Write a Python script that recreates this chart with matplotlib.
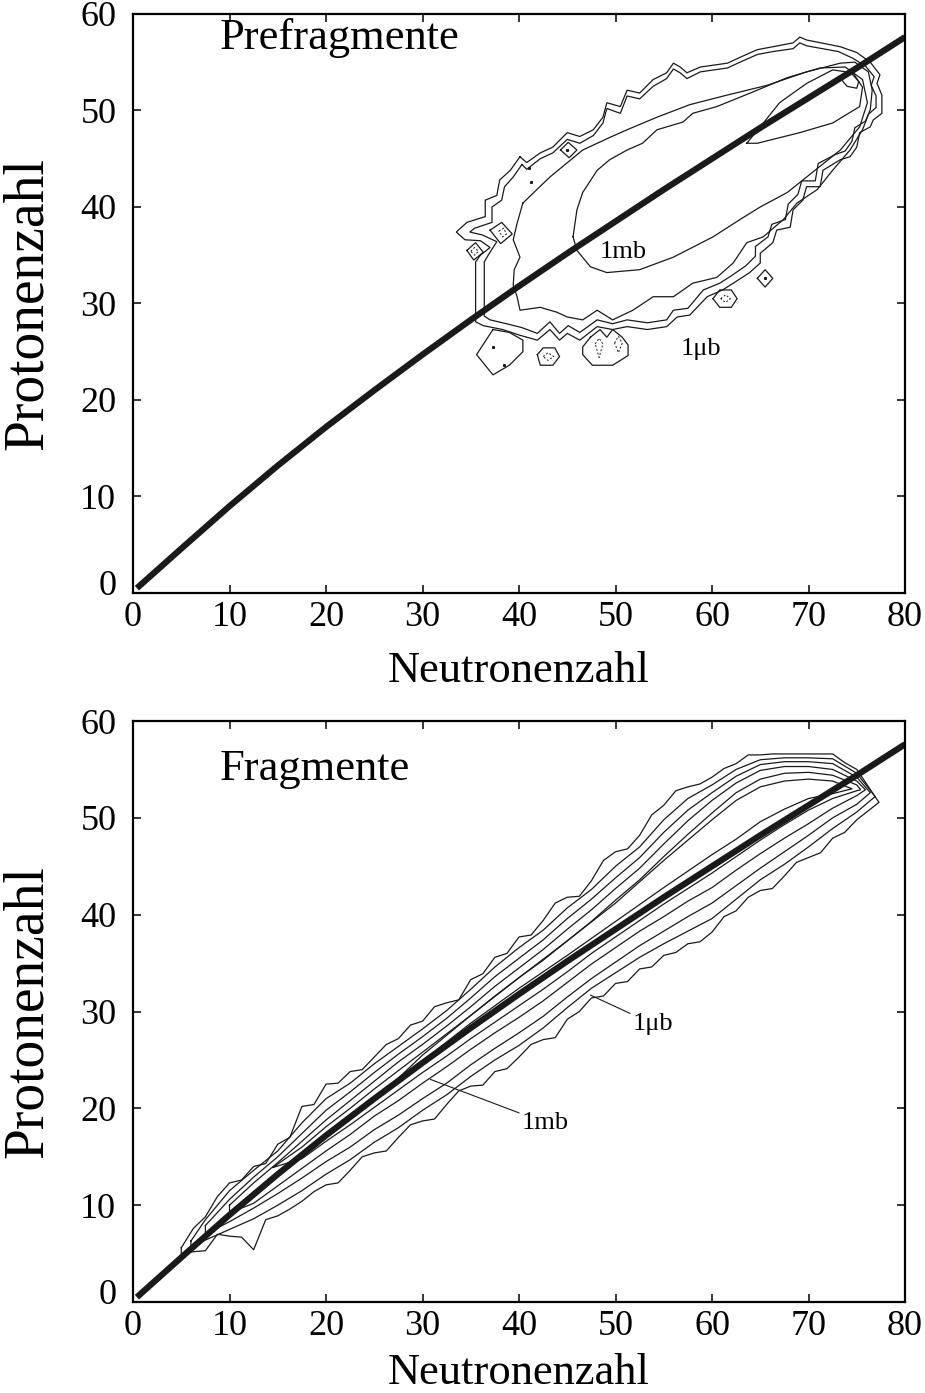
"""
N-Z Karten: Prefragmente / Fragmente
out: out.png
"""

import numpy as np
import matplotlib.pyplot as plt
from matplotlib.transforms import ScaledTranslation

plt.rcParams['font.family'] = ['Liberation Serif', 'DejaVu Serif']

# stability line (thick)
line_n = [0.4, 5, 10, 15, 20, 25, 30, 35, 40, 45, 50, 55, 60, 65, 70, 75, 80]
line_z = [0.5, 4.6, 9.0, 13.2, 17.2, 21.0, 24.7, 28.3, 31.8, 35.2, 38.5, 41.8, 45.0, 48.2, 51.3, 54.4, 57.6]

# ---- Prefragmente contours (N, Z vertices) ----
pre_outer1_n = [40.1, 39.1, 38.0, 37.7, 36.5, 36.5, 34.6, 33.5, 34.4, 36.0, 37.0, 36.0, 35.5, 35.5, 36.3, 38.3, 40.1,
                41.9, 43.2, 44.2, 45.0, 46.3, 48.1, 49.7, 51.2, 53.3, 55.3, 56.4, 57.7, 59.5, 61.1, 62.2, 63.9, 65.0,
                65.0, 66.3, 66.7, 68.1, 68.4, 69.4, 69.8, 71.2, 71.5, 73.3, 74.3, 75.0, 75.3, 76.4, 76.7, 77.6, 77.6,
                77.1, 77.4, 76.4, 75.0, 73.3, 69.8, 69.1, 68.4, 66.3, 64.7, 62.9, 61.6, 58.8, 57.4, 56.7, 56.0, 55.3,
                53.9, 52.5, 51.2, 50.5, 49.1, 48.7, 47.7, 46.3, 45.0, 43.5, 42.2, 40.8]
pre_outer1_z = [45.2, 43.8, 42.8, 41.2, 40.7, 39.0, 38.4, 37.4, 36.6, 36.5, 35.8, 35.0, 34.3, 28.1, 27.7, 27.3, 26.7,
                26.2, 27.3, 26.2, 26.9, 26.2, 27.6, 27.3, 27.6, 27.3, 27.6, 28.6, 28.8, 30.7, 31.4, 32.1, 33.2, 34.2,
                35.2, 36.3, 37.6, 37.9, 39.7, 40.7, 42.1, 42.1, 43.8, 44.9, 45.2, 46.2, 47.7, 48.3, 49.0, 49.7, 51.6,
                52.8, 53.7, 55.0, 56.0, 56.6, 57.3, 57.6, 57.0, 56.6, 56.3, 55.5, 54.9, 54.5, 53.9, 54.5, 54.9, 53.9,
                53.2, 51.8, 52.1, 50.4, 50.8, 49.3, 48.0, 47.3, 47.7, 46.2, 45.6, 44.6]

pre_outer2_n = [40.3, 39.4, 38.5, 38.2, 37.2, 37.2, 35.4, 34.9, 36.2, 37.7, 36.8, 36.4, 36.4, 37.0, 38.7, 40.3, 41.9,
                43.2, 44.2, 45.1, 46.3, 48.1, 49.7, 51.2, 53.3, 55.3, 56.0, 57.5, 59.1, 60.8, 61.9, 63.5, 64.5, 64.5,
                65.8, 66.2, 67.6, 67.9, 68.9, 69.3, 70.7, 71.0, 72.7, 73.8, 74.5, 74.8, 75.9, 76.2, 77.0, 77.0, 76.5,
                76.8, 75.9, 74.6, 73.1, 69.8, 69.1, 68.4, 66.3, 64.7, 62.9, 61.6, 58.8, 57.4, 56.7, 56.0, 55.3, 53.9,
                52.5, 51.2, 50.5, 49.1, 48.7, 47.7, 46.3, 45.0, 43.5, 42.2, 40.8]
pre_outer2_z = [44.4, 43.1, 42.1, 40.7, 40.0, 38.4, 37.8, 37.4, 37.1, 36.4, 35.0, 34.3, 28.7, 28.3, 27.9, 27.5, 26.9,
                28.1, 26.9, 27.7, 27.0, 28.3, 27.9, 28.3, 28.0, 28.3, 29.3, 29.5, 31.4, 32.1, 32.8, 33.9, 34.9, 35.9,
                36.9, 38.2, 38.7, 40.3, 41.3, 42.7, 42.7, 44.5, 45.4, 45.8, 46.8, 48.2, 48.9, 49.6, 50.3, 51.5, 52.6,
                53.5, 54.6, 55.4, 56.1, 56.7, 57.0, 56.4, 56.1, 55.8, 55.0, 54.4, 54.0, 53.3, 53.9, 54.3, 53.3, 52.5,
                51.2, 51.5, 49.7, 50.2, 48.7, 47.4, 46.6, 47.0, 45.6, 45.0, 43.9]

pre_mid_n = [40.4, 39.8, 39.4, 40.1, 39.5, 39.4, 39.8, 40.1, 42.2, 43.9, 45.0, 46.6, 48.1, 49.7, 51.8, 53.9, 56.0,
             58.0, 60.5, 62.2, 63.6, 65.3, 67.4, 68.8, 70.9, 72.5, 74.3, 75.6, 76.4, 76.6, 76.2, 74.8, 73.3, 69.8,
             65.7, 61.6, 57.7, 54.3, 51.2, 49.4, 46.6, 43.2]
pre_mid_z = [40.4, 38.3, 36.6, 34.8, 33.5, 31.9, 30.7, 29.3, 29.6, 29.1, 28.6, 28.3, 29.3, 28.3, 29.3, 30.7, 30.7,
             32.1, 32.7, 34.2, 36.3, 36.9, 38.7, 40.4, 41.8, 43.8, 45.9, 48.0, 50.1, 52.1, 54.0, 55.0, 54.9, 54.0,
             52.6, 51.6, 50.6, 49.3, 48.0, 47.2, 45.9, 43.1]

pre_1mb_n = [45.6, 46.0, 47.4, 49.1, 52.5, 56.0, 60.1, 62.9, 65.0, 67.8, 69.8, 73.3, 75.3, 76.1, 75.6, 73.8, 71.2,
             67.8, 64.2, 60.5, 58.0, 57.0, 54.3, 52.8, 51.2, 49.4, 48.1, 46.6, 46.0]
pre_1mb_z = [36.9, 35.5, 33.8, 33.2, 33.5, 34.8, 36.9, 38.7, 40.0, 41.5, 43.1, 45.9, 48.3, 50.8, 53.2, 54.5, 54.4,
             53.4, 51.9, 50.4, 49.7, 48.8, 48.0, 46.6, 45.9, 44.9, 43.8, 41.5, 39.7]

pre_inner_n = [63.6, 65.0, 67.0, 69.8, 72.5, 74.6, 75.6, 75.3, 72.5, 69.1, 64.7]
pre_inner_z = [46.6, 48.3, 50.8, 52.8, 54.2, 53.9, 52.4, 50.4, 48.7, 47.7, 46.6]

pre_loop_n = [73.4, 74.0, 75.0, 75.2, 74.5]
pre_loop_z = [53.2, 52.5, 52.3, 53.0, 53.8]

# small islands below / left of the outer contour
pre_islands = [
    ([37.3, 35.6, 37.3, 39.0, 40.4, 40.4, 39.0], [27.3, 24.7, 22.6, 23.6, 25.0, 26.2, 27.0]),
    ([41.9, 42.5, 43.7, 44.2, 43.5, 42.2], [24.7, 25.4, 25.4, 24.5, 23.6, 23.6]),
    ([47.4, 48.4, 49.1, 49.7, 50.7, 51.3, 51.3, 49.7, 47.6, 46.6, 46.6], [26.5, 27.3, 26.5, 27.3, 26.5, 25.7, 24.6, 23.6, 23.6, 24.7, 25.5]),
    ([60.1, 60.8, 62.0, 62.6, 62.0, 60.8], [30.5, 31.4, 31.4, 30.5, 29.6, 29.6]),
    ([64.7, 65.5, 66.3, 65.5], [32.6, 33.5, 32.6, 31.7]),
    ([37.0, 38.2, 39.3, 38.1], [37.6, 38.4, 37.2, 36.2]),
    ([34.6, 35.5, 36.3, 35.3], [35.5, 36.3, 35.3, 34.5]),
    ([44.3, 45.1, 46.0, 45.2], [45.9, 46.7, 45.9, 45.1]),
]
# dashed inner rings of the islands
pre_dashed = [
    ([42.5, 43.0, 43.6, 43.0], [24.5, 24.9, 24.5, 24.1]),
    ([47.9, 48.3, 48.7, 48.3], [25.8, 26.4, 25.8, 24.4]),
    ([49.9, 50.3, 50.7, 50.3], [25.9, 26.6, 25.9, 24.9]),
    ([60.9, 61.4, 61.9, 61.4], [30.5, 30.9, 30.5, 30.1]),
    ([35.0, 35.4, 35.8, 35.4], [35.4, 35.8, 35.4, 35.0]),
    ([37.9, 38.4, 38.7, 38.3], [37.5, 37.8, 37.2, 36.9]),
]
pre_dots_n = [37.3, 38.4, 45.0, 41.0, 41.2, 65.5]
pre_dots_z = [25.5, 23.6, 45.9, 44.0, 42.6, 32.6]

# ---- Fragmente contour bands: upper edge, lower edge, right tip ----
frag_n1 = [5, 6.25, 7.5, 8.75, 10, 11.25, 12.5, 13.75, 15, 16.25, 17.5, 18.75, 20, 21.25, 22.5, 23.75, 25, 26.25,
           27.5, 28.75, 30, 31.25, 32.5, 33.75, 35, 36.25, 37.5, 38.75, 40, 41.25, 42.5, 43.75, 45, 46.25, 47.5,
           48.75, 50, 51.25, 52.5, 53.75, 55, 56.25, 57.5, 58.75, 60, 61.25, 62.5, 63.75, 65, 66.25, 67.5, 68.75,
           70, 71.25, 72.5, 73.75, 75]
frag_up1 = [5.6, 7.6, 8.8, 10.9, 12.3, 12.6, 14.0, 14.3, 16.3, 17.0, 20.2, 20.4, 22.5, 22.6, 23.8, 24.0, 25.3, 26.6,
            27.2, 28.6, 29.0, 30.5, 30.9, 31.2, 33.3, 33.9, 35.6, 36.0, 37.7, 37.9, 39.4, 41.2, 41.8, 41.9, 43.5,
            45.6, 46.5, 46.8, 48.2, 50.3, 51.3, 52.8, 53.2, 53.5, 54.2, 55.1, 55.6, 56.5, 56.5, 56.6, 56.6, 56.6,
            56.6, 56.6, 56.6, 55.7, 55.0]
frag_lo1 = [5.0, 5.2, 5.3, 7.0, 6.8, 6.7, 5.4, 8.5, 8.9, 9.6, 10.4, 11.4, 12.1, 12.3, 13.6, 15.0, 15.4, 15.6,
            17.0, 18.3, 18.7, 18.9, 20.4, 21.8, 22.3, 22.4, 23.8, 24.1, 25.3, 26.6, 27.1, 27.3, 29.2, 30.0, 31.4,
            31.6, 32.9, 33.1, 34.4, 34.6, 35.8, 36.1, 37.0, 37.2, 38.2, 39.8, 40.4, 41.8, 42.5, 42.7, 44.0, 45.4,
            45.9, 46.4, 47.9, 48.5, 49.8]
frag_tip1 = (77.3, 51.6)

frag_n2 = [6, 7.5, 10, 12.5, 15, 17.5, 20, 22.5, 25, 27.5, 30, 32.5, 35, 37.5, 40, 42.5, 45, 47.5, 50, 52.5,
           55, 57.5, 60, 62.5, 65, 67.5, 70, 72.5, 75]
frag_up2 = [6.3, 8.5, 11.5, 13.6, 15.6, 18.5, 21.0, 22.6, 24.6, 26.4, 28.2, 30.1, 32.3, 34.6, 36.6, 38.4, 40.7,
            42.6, 45.0, 47.0, 49.8, 52.0, 53.4, 55.0, 56.0, 56.2, 56.2, 56.1, 54.6]
frag_lo2 = [5.7, 6.4, 7.5, 8.6, 10.0, 11.5, 13.2, 14.7, 16.5, 18.0, 19.8, 21.4, 23.3, 25.0, 26.5, 28.3, 30.4,
            32.4, 34.0, 35.6, 37.0, 38.3, 39.6, 41.6, 43.6, 45.2, 47.0, 48.9, 50.6]
frag_tip2 = (76.9, 52.2)

frag_n3 = [7.5, 10, 12.5, 15, 17.5, 20, 22.5, 25, 27.5, 30, 32.5, 35, 37.5, 40, 42.5, 45, 47.5, 50, 52.5,
           55, 57.5, 60, 62.5, 65, 67.5, 70, 72.5, 75]
frag_up3 = [7.9, 10.6, 12.9, 15.0, 17.4, 19.8, 21.7, 23.7, 25.6, 27.4, 29.3, 31.4, 33.6, 35.5, 37.4, 39.6, 41.6,
            43.8, 45.9, 48.5, 50.8, 52.6, 54.3, 55.5, 55.8, 55.8, 55.6, 54.2]
frag_lo3 = [7.0, 8.3, 9.7, 11.2, 12.8, 14.5, 16.0, 17.8, 19.3, 21.0, 22.6, 24.5, 26.2, 27.8, 29.5, 31.5, 33.4,
            35.1, 36.8, 38.3, 39.8, 41.2, 43.0, 44.8, 46.5, 48.2, 50.0, 51.4]
frag_tip3 = (76.4, 52.6)

frag_n4 = [10, 12.5, 15, 17.5, 20, 22.5, 25, 27.5, 30, 32.5, 35, 37.5, 40, 42.5, 45, 47.5, 50, 52.5,
           55, 57.5, 60, 62.5, 65, 67.5, 70, 72.5, 75]
frag_up4 = [10.0, 12.3, 14.4, 16.6, 18.8, 20.8, 22.8, 24.8, 26.6, 28.5, 30.5, 32.6, 34.5, 36.4, 38.5, 40.5, 42.7,
            44.8, 47.3, 49.7, 51.8, 53.6, 54.9, 55.3, 55.3, 55.0, 53.8]
frag_lo4 = [9.2, 10.2, 12.0, 13.8, 15.6, 17.3, 19.2, 20.8, 22.6, 24.3, 26.1, 27.8, 29.4, 31.1, 33.0, 34.9, 36.6,
            38.3, 39.8, 41.4, 42.8, 44.6, 46.3, 47.9, 49.4, 51.0, 52.3]
frag_tip4 = (75.9, 52.9)

frag_n5 = [14.5, 17.5, 20, 22.5, 25, 27.5, 30, 32.5, 35, 37.5, 40, 42.5, 45, 47.5, 50, 52.5,
           55, 57.5, 60, 62.5, 65, 67.5, 70, 72.5, 75]
frag_up5 = [13.9, 16.0, 18.1, 20.0, 22.0, 23.9, 25.8, 27.7, 29.6, 31.6, 33.5, 35.3, 37.3, 39.3, 41.5, 43.6, 46.0,
            48.3, 50.5, 52.6, 54.0, 54.6, 54.7, 54.4, 53.4]
frag_lo5 = [13.9, 14.8, 16.6, 18.3, 20.1, 21.9, 23.7, 25.4, 27.2, 28.9, 30.6, 32.3, 34.1, 36.0, 37.7, 39.4, 41.1,
            42.7, 44.3, 46.0, 47.7, 49.3, 50.8, 52.0, 52.8]
frag_tip5 = (75.4, 52.9)

frag_n6 = [26, 30, 35, 40, 45, 50, 55, 60, 62.5, 65, 67.5, 70, 72.5, 74.5]
frag_up6 = [21.7, 25.5, 29.6, 33.5, 37.3, 41.2, 45.6, 49.8, 51.8, 53.2, 53.8, 54.0, 53.8, 53.0]
frag_lo6 = [21.7, 24.9, 28.8, 32.4, 35.8, 39.3, 42.8, 46.2, 47.8, 49.6, 50.9, 52.0, 52.5, 53.0]

CCOL = '#1a1a1a'
CLW = 0.9


def closed(ax, n, z, **kw):
    ax.plot(list(n) + [n[0]], list(z) + [z[0]], color=CCOL, lw=kw.get('lw', CLW),
            ls=kw.get('ls', '-'), solid_joinstyle='miter')


def band(ax, n, up, lo, tip):
    xs = list(n) + ([tip[0]] if tip else []) + list(n[::-1]) + [n[0]]
    ys = list(up) + ([tip[1]] if tip else []) + list(lo[::-1]) + [up[0]]
    ax.plot(xs, ys, color=CCOL, lw=CLW)


def style(ax, xl_y):
    ax.set_xlim(0, 80)
    ax.set_ylim(0, 60)
    ax.set_xticks(np.arange(0, 81, 10))
    ax.set_yticks(np.arange(0, 61, 10))
    for s in ax.spines.values():
        s.set_linewidth(1.6)
    ax.tick_params(direction='in', top=True, right=True, length=6, width=1.1,
                   labelsize=26)
    ax.tick_params(axis='y', pad=12)
    ax.tick_params(axis='x', pad=6)
    ax.set_xlabel('Neutronenzahl', fontsize=32)
    ax.set_ylabel('Protonenzahl', fontsize=40)
    ax.xaxis.set_label_coords(0.5, xl_y)
    ax.yaxis.set_label_coords(-0.102, 0.5)
    # the "0" of the y axis sits a bit higher in the original
    lab = ax.get_yticklabels()[0]
    lab.set_transform(lab.get_transform() + ScaledTranslation(0, 11 / 100, ax.figure.dpi_scale_trans))


fig = plt.figure(figsize=(9.25, 13.93), dpi=100)
ax1 = fig.add_axes([0.1438, 0.5743, 0.8346, 0.4157])
ax2 = fig.add_axes([0.1438, 0.0653, 0.8346, 0.4171])

# top panel
closed(ax1, pre_outer1_n, pre_outer1_z)
closed(ax1, pre_outer2_n, pre_outer2_z)
closed(ax1, pre_mid_n, pre_mid_z)
closed(ax1, pre_1mb_n, pre_1mb_z)
closed(ax1, pre_inner_n, pre_inner_z)
closed(ax1, pre_loop_n, pre_loop_z)
for n, z in pre_islands:
    closed(ax1, n, z)
for n, z in pre_dashed:
    closed(ax1, n, z, ls=(0, (2, 2)), lw=0.7)
ax1.plot(pre_dots_n, pre_dots_z, ls='none', marker='s', ms=1.2, color=CCOL)
ax1.plot(line_n, line_z, color='#1a1a1a', lw=4.5, solid_capstyle='butt')
ax1.text(9.0, 57.5, 'Prefragmente', fontsize=32, va='center', ha='left')
ax1.text(48.4, 35.3, '1mb', fontsize=19, va='center', ha='left')
ax1.text(56.7, 25.3, '1\u03bcb', fontsize=19, va='center', ha='left')
style(ax1, -0.1)

# bottom panel
band(ax2, frag_n1, frag_up1, frag_lo1, frag_tip1)
band(ax2, frag_n2, frag_up2, frag_lo2, frag_tip2)
band(ax2, frag_n3, frag_up3, frag_lo3, frag_tip3)
band(ax2, frag_n4, frag_up4, frag_lo4, frag_tip4)
band(ax2, frag_n5, frag_up5, frag_lo5, frag_tip5)
band(ax2, frag_n6, frag_up6, frag_lo6, None)
ax2.plot(line_n, line_z, color='#1a1a1a', lw=4.5, solid_capstyle='butt')
ax2.text(9.0, 55.0, 'Fragmente', fontsize=32, va='center', ha='left')
ax2.annotate('1\u03bcb', xy=(47.4, 31.7), xytext=(51.8, 28.7), fontsize=19, va='center', ha='left',
             arrowprops=dict(arrowstyle='-', color=CCOL, lw=0.8, shrinkA=0, shrinkB=0))
ax2.annotate('1mb', xy=(30.8, 23.0), xytext=(40.3, 18.5), fontsize=19, va='center', ha='left',
             arrowprops=dict(arrowstyle='-', color=CCOL, lw=0.8, shrinkA=0, shrinkB=0))
style(ax2, -0.088)

fig.savefig('out.png', dpi=100)
